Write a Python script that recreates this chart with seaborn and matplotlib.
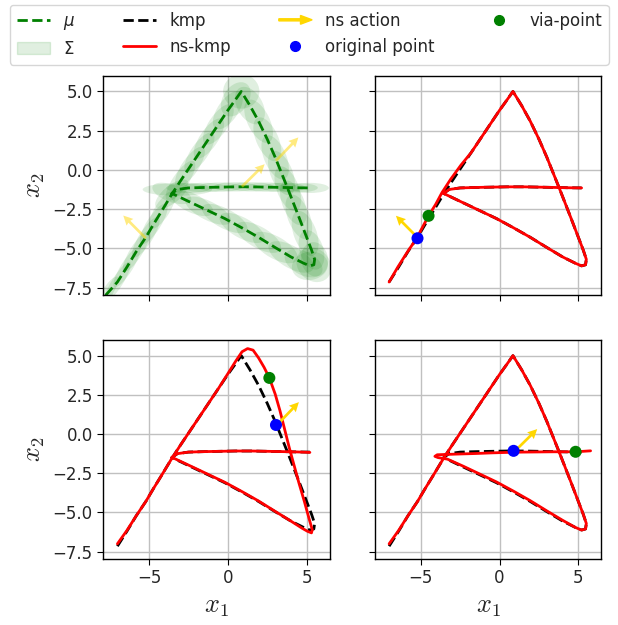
import numpy as np
import seaborn as sns
import matplotlib.pyplot as plt
import matplotlib.patches as mpatches
from matplotlib.lines import Line2D
from matplotlib.legend_handler import HandlerPatch

# mean trajectory of the demonstrations
mu_x = [-7.75, -7.0, -6.4, -5.8, -5.2, -4.7, -4.15, -3.55, -3.0, -2.4, -1.8, -1.2, -0.6, 0.0, 0.5, 0.85,
        1.4, 1.95, 2.5, 3.0, 3.4, 3.8, 4.15, 4.5, 4.9, 5.3, 5.5, 5.45, 5.2, 4.8,
        4.0, 3.0, 1.95, 0.9, -0.2, -1.25, -2.3, -3.55,
        -3.2, -2.5, -1.5, -0.5, 0.5, 1.5, 2.5, 3.5, 4.4, 5.2]
mu_y = [-8.0, -7.15, -6.2, -5.2, -4.3, -3.45, -2.55, -1.55, -0.7, 0.2, 1.1, 2.0, 2.9, 3.8, 4.5, 5.0,
        4.1, 3.1, 1.95, 0.8, -0.2, -1.2, -2.1, -3.0, -4.05, -5.1, -5.7, -6.05, -6.12, -5.95,
        -5.55, -4.95, -4.3, -3.7, -3.1, -2.6, -2.1, -1.5,
        -1.25, -1.15, -1.12, -1.1, -1.08, -1.08, -1.1, -1.12, -1.14, -1.15]

# covariance ellipses on the mean points: length along path, width across, angle (deg)
sig_len = [2.8, 3.0, 3.0, 3.0, 3.0, 3.0, 2.8, 2.6, 3.0, 3.0, 3.0, 3.0, 3.0, 2.8, 2.4, 2.3,
           2.6, 3.0, 3.0, 3.0, 3.0, 3.0, 3.0, 3.0, 3.0, 2.6, 2.2, 2.4, 2.3, 2.6,
           3.2, 3.2, 3.2, 3.2, 3.2, 3.2, 3.0, 2.6,
           4.4, 2.8, 2.8, 2.8, 2.8, 2.8, 2.8, 2.8, 2.6, 2.4]
sig_wid = [0.7, 0.7, 0.75, 0.8, 0.85, 0.9, 0.95, 1.1, 1.0, 1.05, 1.1, 1.15, 1.2, 1.3, 1.6, 2.2,
           1.6, 1.4, 1.4, 1.4, 1.4, 1.4, 1.4, 1.4, 1.45, 1.5, 1.7, 2.0, 1.8, 1.5,
           1.4, 1.4, 1.35, 1.3, 1.25, 1.2, 1.2, 1.1,
           0.8, 0.65, 0.6, 0.6, 0.6, 0.6, 0.6, 0.6, 0.6, 0.65]
sig_ang = [58, 58, 58, 58, 58, 58, 58, 40, 56, 56, 56, 56, 56, 56, 56, 0,
           -60, -64, -66, -67, -68, -69, -69, -69, -70, -72, -80, -45, 10, -28,
           -30, -30, -30, -29, -28, -27, -26, -20,
           0, 0, 0, 0, 0, 0, 0, 0, 0, 0]

# kmp reproduction
kmp_x = [-7.0, -6.4, -5.8, -5.2, -4.7, -4.15, -3.55, -3.0, -2.4, -1.8, -1.2, -0.6, 0.0, 0.5, 0.85,
         1.4, 1.95, 2.5, 3.0, 3.4, 3.8, 4.15, 4.5, 4.9, 5.3, 5.5, 5.45, 5.2, 4.8,
         4.0, 3.0, 1.95, 0.9, -0.2, -1.25, -2.3, -3.55,
         -3.2, -2.5, -1.5, -0.5, 0.5, 1.5, 2.5, 3.5, 4.4, 5.2]
kmp_y = [-7.15, -6.2, -5.2, -4.3, -3.45, -2.55, -1.55, -0.7, 0.2, 1.1, 2.0, 2.9, 3.8, 4.5, 5.0,
         4.1, 3.1, 1.95, 0.8, -0.2, -1.2, -2.1, -3.0, -4.05, -5.1, -5.7, -6.05, -6.12, -5.95,
         -5.55, -4.95, -4.3, -3.7, -3.1, -2.6, -2.1, -1.5,
         -1.25, -1.15, -1.12, -1.1, -1.08, -1.08, -1.1, -1.12, -1.14, -1.15]

# ns-kmp, via-point on the first leg
tr_x = [-7.0, -6.45, -5.85, -5.25, -4.5, -4.05, -3.65, -3.1, -2.45, -1.8, -1.2, -0.6, 0.0, 0.5, 0.85,
        1.4, 1.95, 2.5, 3.0, 3.4, 3.8, 4.15, 4.5, 4.9, 5.3, 5.5, 5.45, 5.2, 4.8,
        4.0, 3.0, 1.95, 0.9, -0.2, -1.25, -2.3, -3.55,
        -3.2, -2.5, -1.5, -0.5, 0.5, 1.5, 2.5, 3.5, 4.4, 5.2]
tr_y = [-7.15, -6.2, -5.25, -4.35, -2.93, -2.2, -1.45, -0.6, 0.3, 1.1, 2.0, 2.9, 3.8, 4.5, 5.0,
        4.1, 3.1, 1.95, 0.8, -0.2, -1.2, -2.1, -3.0, -4.05, -5.1, -5.7, -6.05, -6.12, -5.95,
        -5.55, -4.95, -4.3, -3.7, -3.1, -2.6, -2.1, -1.5,
        -1.25, -1.15, -1.12, -1.1, -1.08, -1.08, -1.1, -1.12, -1.14, -1.15]

# ns-kmp, via-point on the descending leg
bl_x = [-7.0, -6.4, -5.8, -5.2, -4.7, -4.15, -3.55, -3.0, -2.4, -1.8, -1.2, -0.6, 0.0, 0.5, 0.9,
        1.25, 1.6, 1.95, 2.3, 2.63, 3.0, 3.3, 3.6, 3.9, 4.2, 4.5, 4.85, 5.15, 5.35, 5.3, 5.05, 4.7,
        4.0, 3.0, 1.95, 0.9, -0.2, -1.25, -2.3, -3.55,
        -3.2, -2.5, -1.5, -0.5, 0.5, 1.5, 2.5, 3.5, 4.4, 5.2]
bl_y = [-7.0, -6.15, -5.2, -4.3, -3.45, -2.55, -1.55, -0.7, 0.2, 1.1, 2.0, 2.9, 3.85, 4.65, 5.25,
        5.45, 5.35, 4.85, 4.25, 3.58, 2.55, 1.5, 0.3, -0.9, -2.0, -3.1, -4.3, -5.4, -6.1, -6.3, -6.2, -6.0,
        -5.55, -4.93, -4.27, -3.67, -3.07, -2.57, -2.07, -1.48,
        -1.25, -1.15, -1.12, -1.1, -1.08, -1.08, -1.1, -1.12, -1.14, -1.17]

# ns-kmp, via-point on the horizontal stroke
br_x = [-7.0, -6.4, -5.8, -5.2, -4.7, -4.15, -3.55, -3.0, -2.4, -1.8, -1.2, -0.6, 0.0, 0.5, 0.85,
        1.4, 1.95, 2.5, 3.0, 3.4, 3.8, 4.15, 4.5, 4.9, 5.3, 5.5, 5.45, 5.2, 4.8,
        4.0, 3.0, 1.95, 0.9, -0.2, -1.25, -2.3, -3.3, -3.9, -4.1, -3.95,
        -3.4, -2.5, -1.5, -0.5, 0.5, 1.5, 2.5, 3.5, 4.3, 4.82, 5.3, 5.77]
br_y = [-7.0, -6.15, -5.2, -4.3, -3.45, -2.55, -1.55, -0.7, 0.2, 1.1, 2.0, 2.9, 3.8, 4.5, 5.0,
        4.1, 3.1, 1.95, 0.8, -0.2, -1.2, -2.1, -3.0, -4.05, -5.1, -5.7, -6.05, -6.12, -5.95,
        -5.5, -4.9, -4.25, -3.65, -3.05, -2.55, -2.05, -1.6, -1.5, -1.42, -1.32,
        -1.3, -1.27, -1.24, -1.2, -1.17, -1.15, -1.14, -1.13, -1.13, -1.13, -1.1, -1.07]

# original points, via-points and null-space actions (tr, bl, br)
orig_x = [-5.2, 3.05, 0.89]
orig_y = [-4.36, 0.58, -1.07]
via_x = [-4.5, 2.63, 4.82]
via_y = [-2.93, 3.58, -1.13]
act_u = [-1.43, 1.42, 1.44]
act_v = [1.45, 1.49, 1.43]

sns.set_style("ticks")
plt.rcParams['font.family'] = ['DejaVu Sans']

fig, axes = plt.subplots(2, 2, figsize=(6.18, 6.25), dpi=100, sharex=True, sharey=True)
fig.subplots_adjust(left=0.167, right=0.973, bottom=0.106, top=0.878, wspace=0.2, hspace=0.21)

arrow_kw = dict(angles='xy', scale_units='xy', scale=1, color='gold', width=0.012,
                headwidth=3.5, headlength=3.5, headaxislength=3.2, zorder=4)

# top-left: demonstrations distribution
ax = axes[0, 0]
for x, y, w, h, a in zip(mu_x, mu_y, sig_len, sig_wid, sig_ang):
    ax.add_patch(mpatches.Ellipse((x, y), w, h, angle=a, color='green', alpha=0.12, lw=0))
sns.lineplot(x=mu_x, y=mu_y, sort=False, estimator=None, color='green', linestyle='--', lw=2, ax=ax)
ax.quiver(orig_x, orig_y, act_u, act_v, alpha=0.5, **arrow_kw)

panels = [(axes[0, 1], tr_x, tr_y), (axes[1, 0], bl_x, bl_y), (axes[1, 1], br_x, br_y)]
for i, (ax, rx, ry) in enumerate(panels):
    sns.lineplot(x=kmp_x, y=kmp_y, sort=False, estimator=None, color='black', linestyle='--', lw=2, ax=ax)
    sns.lineplot(x=rx, y=ry, sort=False, estimator=None, color='red', lw=2, ax=ax)
    ax.quiver([orig_x[i]], [orig_y[i]], [act_u[i]], [act_v[i]], **arrow_kw)
    sns.scatterplot(x=[orig_x[i]], y=[orig_y[i]], color='blue', s=75, edgecolor='none', zorder=5, ax=ax)
    sns.scatterplot(x=[via_x[i]], y=[via_y[i]], color='green', s=75, edgecolor='none', zorder=5, ax=ax)

for ax in axes.flat:
    ax.set_xlim(-7.9, 6.45)
    ax.set_ylim(-7.95, 5.97)
    ax.set_xticks([-5, 0, 5])
    ax.set_yticks([-7.5, -5.0, -2.5, 0.0, 2.5, 5.0])
    ax.grid(True, color='#c0c0c0', lw=1.0)
    ax.tick_params(labelsize=12, color='black', length=4)
    for s in ax.spines.values():
        s.set_color('black')
        s.set_linewidth(1.0)
for ax in axes[1]:
    ax.set_xlabel('$x_1$', fontsize=19, math_fontfamily='cm')
for ax in axes[:, 0]:
    ax.set_ylabel('$x_2$', fontsize=19, math_fontfamily='cm')


def legend_arrow(legend, orig_handle, xdescent, ydescent, width, height, fontsize):
    return mpatches.FancyArrow(0, 0.5 * height, width, 0, width=0.18 * height,
                               head_width=0.75 * height, head_length=0.35 * width,
                               length_includes_head=True, color='gold')


arrow_proxy = mpatches.FancyArrow(0, 0, 1, 0, color='gold')
handles = [Line2D([], [], color='green', ls='--', lw=2),
           mpatches.Patch(color='green', alpha=0.12),
           Line2D([], [], color='black', ls='--', lw=2),
           Line2D([], [], color='red', lw=2),
           arrow_proxy,
           Line2D([], [], color='blue', marker='o', ls='none', markersize=7),
           Line2D([], [], color='green', marker='o', ls='none', markersize=7)]
labels = [r'$\mu$', 'Σ', 'kmp', 'ns-kmp', 'ns action', 'original point', 'via-point']
fig.legend(handles, labels, loc='upper left', ncol=4, mode='expand',
           bbox_to_anchor=(0.008, 1.0, 0.985, 0.0), borderaxespad=0.3, fontsize=12,
           handler_map={mpatches.FancyArrow: HandlerPatch(patch_func=legend_arrow)})

fig.savefig('out.png', dpi=100)
